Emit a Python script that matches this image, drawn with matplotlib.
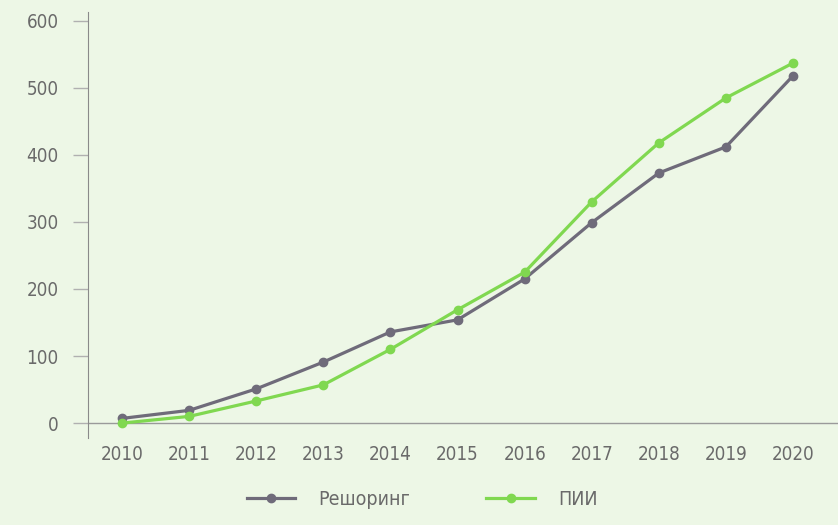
import matplotlib.pyplot as plt

years = ["2010", "2011", "2012", "2013", "2014", "2015",
         "2016", "2017", "2018", "2019", "2020"]
reshoring = [7, 19, 51, 91, 136, 154, 215, 299, 373, 412, 518]
fdi = [0, 10, 33, 57, 110, 169, 225, 330, 418, 485, 537]
y_ticks = [0, 100, 200, 300, 400, 500, 600]

plt.rcParams['font.family'] = ['DejaVu Sans']
plt.rcParams['font.stretch'] = 'condensed'

bg = "#edf7e6"
fig = plt.figure(figsize=(8.38, 5.25), dpi=100, facecolor=bg)
ax = fig.add_axes([0.105, 0.166, 0.895, 0.811], facecolor=bg)

x = list(range(len(years)))
l1, = ax.plot(x, reshoring, color="#6f6b7a", lw=2.3, marker="o", ms=6,
              label="Решоринг", zorder=3)
l2, = ax.plot(x, fdi, color="#80d850", lw=2.3, marker="o", ms=6,
              label="ПИИ", zorder=4)

ax.axhline(0, color="#9a9a9a", lw=1, zorder=1)

ax.set_xlim(-0.507, 10.67)
ax.set_ylim(-22, 613)
ax.set_xticks(x)
ax.set_xticklabels(years)
ax.set_yticks(y_ticks)

for s in ["top", "right", "bottom"]:
    ax.spines[s].set_visible(False)
ax.spines["left"].set_color("#8a8a8a")
ax.spines["left"].set_linewidth(0.8)

ax.tick_params(axis="x", length=0, pad=5, labelsize=13.5, labelcolor="#6a6a6a")
ax.tick_params(axis="y", length=11, width=1, color="#b0b0b0", pad=10,
               labelsize=13.5, labelcolor="#6a6a6a")

fig.legend(handles=[l1, l2], loc="center", bbox_to_anchor=(0.504, 0.048),
           ncol=2, frameon=False, fontsize=14, handlelength=2.5,
           handletextpad=1.2, columnspacing=3.9, labelcolor="#6a6a6a")

fig.savefig("out.png", dpi=100, facecolor=bg)
